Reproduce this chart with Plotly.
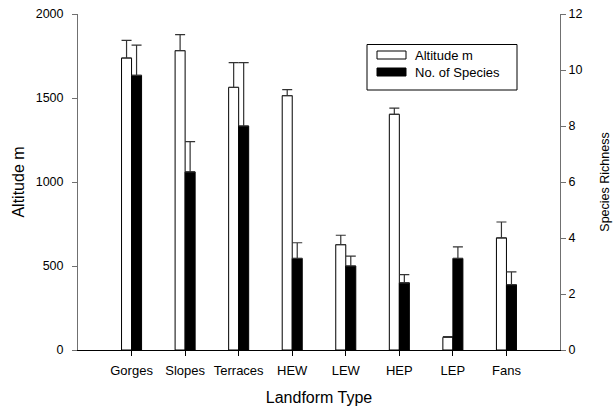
import plotly.graph_objects as go

categories = ["Gorges", "Slopes", "Terraces", "HEW", "LEW", "HEP", "LEP", "Fans"]
altitude = [1738, 1782, 1563, 1514, 627, 1403, 75, 667]
altitude_err = [105, 95, 147, 36, 56, 37, 5, 95]
species = [9.81, 6.36, 8.0, 3.27, 3.0, 2.40, 3.27, 2.33]
species_err = [1.08, 1.08, 2.26, 0.56, 0.35, 0.29, 0.41, 0.46]
legend_labels = ["Altitude m", "No. of Species"]

FONT = "Liberation Sans, Arial, sans-serif"
BW = 0.187

fig = go.Figure()
fig.add_trace(go.Bar(
    x=categories, y=altitude, name=legend_labels[0],
    width=BW, offset=-BW,
    marker=dict(color="white", line=dict(color="black", width=1)),
    error_y=dict(type="data", array=altitude_err, arrayminus=[0]*len(altitude_err),
                 symmetric=False, color="#333333", thickness=1.2, width=5),
    yaxis="y", showlegend=False,
))
fig.add_trace(go.Bar(
    x=categories, y=species, name=legend_labels[1],
    width=BW, offset=0,
    marker=dict(color="black", line=dict(color="black", width=1)),
    error_y=dict(type="data", array=species_err, arrayminus=[0]*len(species_err),
                 symmetric=False, color="#333333", thickness=1.2, width=5),
    yaxis="y2", showlegend=False,
))

# manual legend
shapes = [
    dict(type="rect", xref="paper", yref="paper", x0=(367-78)/482, x1=(517-78)/482,
         y0=(350-90)/336, y1=(350-44.5)/336, line=dict(color="black", width=1), fillcolor="rgba(0,0,0,0)"),
    dict(type="rect", xref="paper", yref="paper", x0=(377-78)/482, x1=(406-78)/482,
         y0=(350-59)/336, y1=(350-51)/336, line=dict(color="black", width=1), fillcolor="white"),
    dict(type="rect", xref="paper", yref="paper", x0=(377-78)/482, x1=(406-78)/482,
         y0=(350-76)/336, y1=(350-68)/336, line=dict(color="black", width=1), fillcolor="black"),
]
annotations = [
    dict(xref="paper", yref="paper", x=(413-78)/482, y=(350-55)/336, text=legend_labels[0],
         showarrow=False, xanchor="left", yanchor="middle", font=dict(family=FONT, size=13, color="black")),
    dict(xref="paper", yref="paper", x=(413-78)/482, y=(350-72)/336, text=legend_labels[1],
         showarrow=False, xanchor="left", yanchor="middle", font=dict(family=FONT, size=13, color="black")),
]

fig.update_layout(
    width=614, height=408,
    margin=dict(l=78, r=54, t=14, b=58),
    paper_bgcolor="white", plot_bgcolor="white",
    barmode="overlay",
    font=dict(family=FONT, size=12, color="black"),
    shapes=shapes, annotations=annotations,
    xaxis=dict(
        type="category", range=[-1, 8], showgrid=False, zeroline=False,
        showline=True, linecolor="black", linewidth=1,
        ticks="outside", ticklen=5, tickcolor="black",
        ticklabelstandoff=3, automargin=False,
        title=dict(text="Landform Type", font=dict(size=16), standoff=15),
        tickfont=dict(size=13),
    ),
    yaxis=dict(
        range=[0, 2000], dtick=500, showgrid=False, zeroline=False,
        showline=True, linecolor="#707070", linewidth=1,
        ticks="outside", ticklen=5, tickcolor="#707070",
        ticklabelstandoff=6, automargin=False,
        title=dict(text="Altitude m", font=dict(size=16), standoff=7),
        tickfont=dict(size=12.5),
    ),
    yaxis2=dict(
        range=[0, 12], dtick=2, overlaying="y", side="right",
        showgrid=False, zeroline=False,
        showline=True, linecolor="#707070", linewidth=1,
        ticks="outside", ticklen=5, tickcolor="#707070",
        automargin=False,
        title=dict(text="Species Richness", font=dict(size=12.5), standoff=18),
        tickfont=dict(size=12.5),
    ),
)

fig.write_html("out.html")
